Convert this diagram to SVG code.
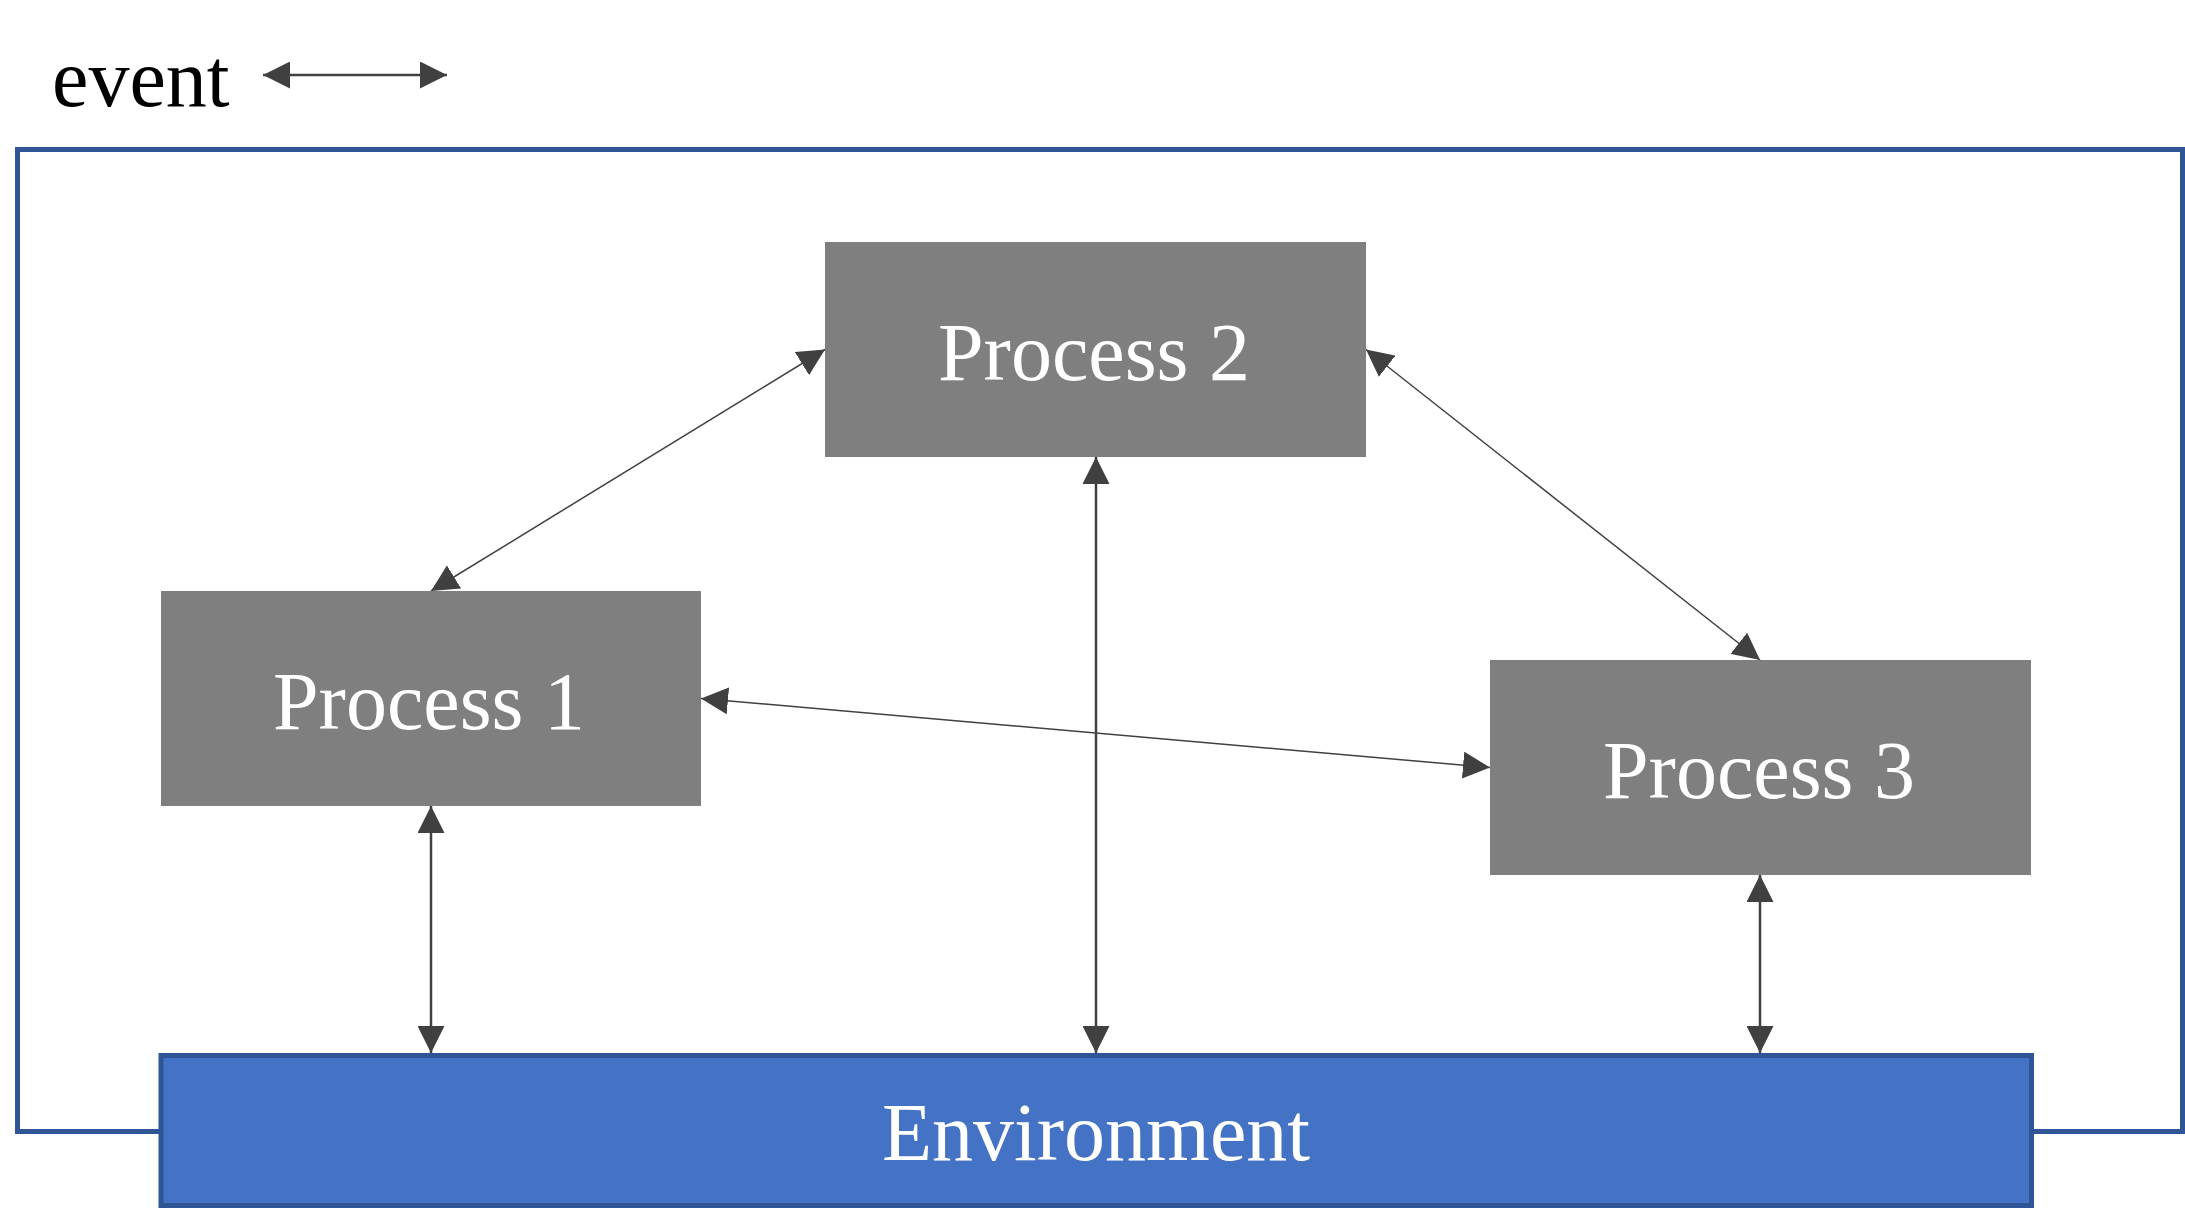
<svg xmlns="http://www.w3.org/2000/svg" width="2185" height="1230" viewBox="0 0 2185 1230">
<style>
.proc{fill:#7F7F7F}
.lbl{font-family:"Liberation Serif","Times New Roman",serif;font-size:82px;text-anchor:middle}
.wt{fill:#FFFFFF}
.conn{stroke:#404040;fill:none}
.thick{stroke-width:2.5}
.thin{stroke-width:1.5}
</style>
<defs>
<marker id="ah" markerUnits="userSpaceOnUse" viewBox="0 0 27 27" refX="27" refY="13.5" markerWidth="27" markerHeight="27" orient="auto-start-reverse">
<path d="M0,0 L27,13.5 L0,27 z" fill="#404040"/>
</marker>
</defs>
<rect width="2185" height="1230" fill="#FFFFFF"/>
<g id="legend">
<text x="52" y="106" class="lbl" style="text-anchor:start" fill="#000000">event</text>
<line x1="263" y1="75" x2="447" y2="75" class="conn thick" marker-start="url(#ah)" marker-end="url(#ah)"/>
</g>
<g id="frame">
<rect x="17.5" y="149.5" width="2165" height="982" fill="none" stroke="#2F5597" stroke-width="5"/>
</g>
<g id="connectors">
<line x1="431" y1="591" x2="825" y2="349.5" class="conn thin" marker-start="url(#ah)" marker-end="url(#ah)"/>
<line x1="1366" y1="349.5" x2="1760" y2="660" class="conn thin" marker-start="url(#ah)" marker-end="url(#ah)"/>
<line x1="701" y1="698.5" x2="1490" y2="767.5" class="conn thin" marker-start="url(#ah)" marker-end="url(#ah)"/>
<line x1="431" y1="806" x2="431" y2="1053" class="conn thick" marker-start="url(#ah)" marker-end="url(#ah)"/>
<line x1="1096" y1="457" x2="1096" y2="1053" class="conn thick" marker-start="url(#ah)" marker-end="url(#ah)"/>
<line x1="1760" y1="875" x2="1760" y2="1053" class="conn thick" marker-start="url(#ah)" marker-end="url(#ah)"/>
</g>
<g id="process2">
<rect x="825" y="242" width="541" height="215" class="proc"/>
<text x="1094" y="380" class="lbl wt">Process 2</text>
</g>
<g id="process1">
<rect x="161" y="591" width="540" height="215" class="proc"/>
<text x="429" y="729" class="lbl wt">Process 1</text>
</g>
<g id="process3">
<rect x="1490" y="660" width="541" height="215" class="proc"/>
<text x="1759" y="798" class="lbl wt">Process 3</text>
</g>
<g id="environment">
<rect x="161" y="1055.5" width="1870.5" height="150" fill="#4472C4" stroke="#2F5597" stroke-width="5"/>
<text x="1096" y="1160" class="lbl wt">Environment</text>
</g>
</svg>
